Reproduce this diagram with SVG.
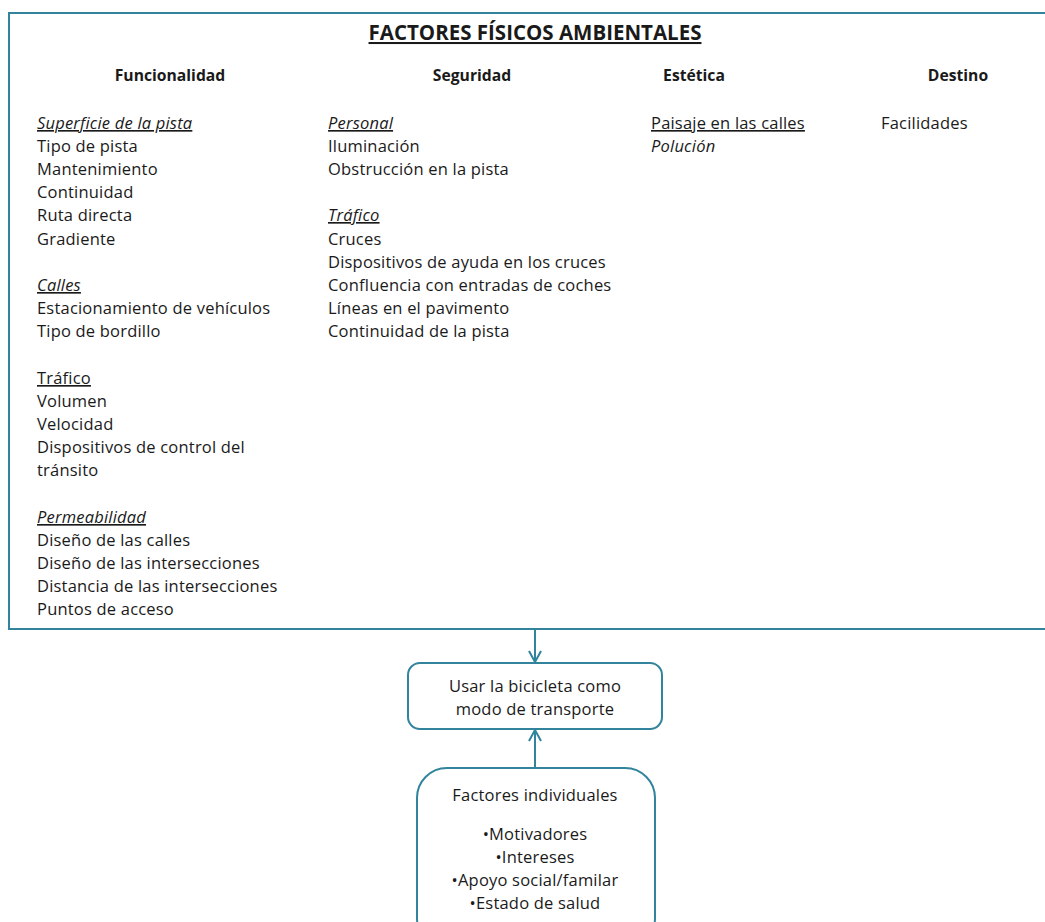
<svg xmlns="http://www.w3.org/2000/svg" width="1045" height="922" viewBox="0 0 1045 922">
  <style>
    text { font-family: "Open Sans", "Liberation Sans", Arial, sans-serif; font-size: 16.5px; letter-spacing: 0.2px; fill: #1a1a1a; }
    .title { font-size: 20.5px; letter-spacing: 0; font-weight: bold; text-decoration: underline; text-anchor: middle; }
    .head { font-weight: bold; font-size: 15.7px; letter-spacing: 0; text-anchor: middle; }
    .sub { text-decoration: underline; }
    .it { font-style: italic; }
    .mid { text-anchor: middle; }
    .frame { fill: #ffffff; stroke: #31849B; stroke-width: 2; }
    .link { stroke: #31849B; stroke-width: 2; fill: none; }
  </style>
  <defs>
    <marker id="chev" viewBox="0 0 14 14" refX="12" refY="7" markerWidth="14" markerHeight="14" markerUnits="userSpaceOnUse" orient="auto">
      <path d="M1,1 L12,7 L1,13" fill="none" stroke="#31849B" stroke-width="2"/>
    </marker>
  </defs>
  <rect width="1045" height="922" fill="#ffffff"/>

  <g id="factores-fisicos">
    <rect class="frame" x="9" y="13" width="1050" height="616"/>
    <text class="title" x="535" y="40">FACTORES FÍSICOS AMBIENTALES</text>
    <text class="head" x="170" y="81">Funcionalidad</text>
    <text class="head" x="472" y="81">Seguridad</text>
    <text class="head" x="694" y="81">Estética</text>
    <text class="head" x="958" y="81">Destino</text>

    <g id="funcionalidad">
      <text x="37" y="129" class="sub it">Superficie de la pista</text>
      <text x="37" y="152">Tipo de pista</text>
      <text x="37" y="175">Mantenimiento</text>
      <text x="37" y="198">Continuidad</text>
      <text x="37" y="221">Ruta directa</text>
      <text x="37" y="245">Gradiente</text>
      <text x="37" y="291" class="sub it">Calles</text>
      <text x="37" y="314">Estacionamiento de vehículos</text>
      <text x="37" y="337">Tipo de bordillo</text>
      <text x="37" y="384" class="sub">Tráfico</text>
      <text x="37" y="407">Volumen</text>
      <text x="37" y="430">Velocidad</text>
      <text x="37" y="453">Dispositivos de control del</text>
      <text x="37" y="476">tránsito</text>
      <text x="37" y="523" class="sub it">Permeabilidad</text>
      <text x="37" y="546">Diseño de las calles</text>
      <text x="37" y="569">Diseño de las intersecciones</text>
      <text x="37" y="592">Distancia de las intersecciones</text>
      <text x="37" y="615">Puntos de acceso</text>
    </g>

    <g id="seguridad">
      <text x="328" y="129" class="sub it">Personal</text>
      <text x="328" y="152">Iluminación</text>
      <text x="328" y="175">Obstrucción en la pista</text>
      <text x="328" y="221" class="sub it">Tráfico</text>
      <text x="328" y="245">Cruces</text>
      <text x="328" y="268">Dispositivos de ayuda en los cruces</text>
      <text x="328" y="291">Confluencia con entradas de coches</text>
      <text x="328" y="314">Líneas en el pavimento</text>
      <text x="328" y="337">Continuidad de la pista</text>
    </g>

    <g id="estetica">
      <text x="651" y="129" class="sub">Paisaje en las calles</text>
      <text x="651" y="152" class="it">Polución</text>
    </g>

    <g id="destino">
      <text x="881" y="129">Facilidades</text>
    </g>
  </g>

  <g id="connectors">
    <line class="link" x1="535" y1="630" x2="535" y2="662" marker-end="url(#chev)"/>
    <line class="link" x1="535" y1="767" x2="535" y2="730" marker-end="url(#chev)"/>
  </g>

  <g id="usar-bicicleta">
    <rect class="frame" x="408" y="663" width="254" height="66" rx="12"/>
    <text class="mid" x="535" y="692">Usar la bicicleta como</text>
    <text class="mid" x="535" y="715">modo de transporte</text>
  </g>

  <g id="factores-individuales">
    <rect class="frame" x="417" y="768" width="238" height="180" rx="30"/>
    <text class="mid" x="535" y="801">Factores individuales</text>
    <text class="mid" x="535" y="840">•Motivadores</text>
    <text class="mid" x="535" y="863">•Intereses</text>
    <text class="mid" x="535" y="886">•Apoyo social/familar</text>
    <text class="mid" x="535" y="909">•Estado de salud</text>
  </g>
</svg>
